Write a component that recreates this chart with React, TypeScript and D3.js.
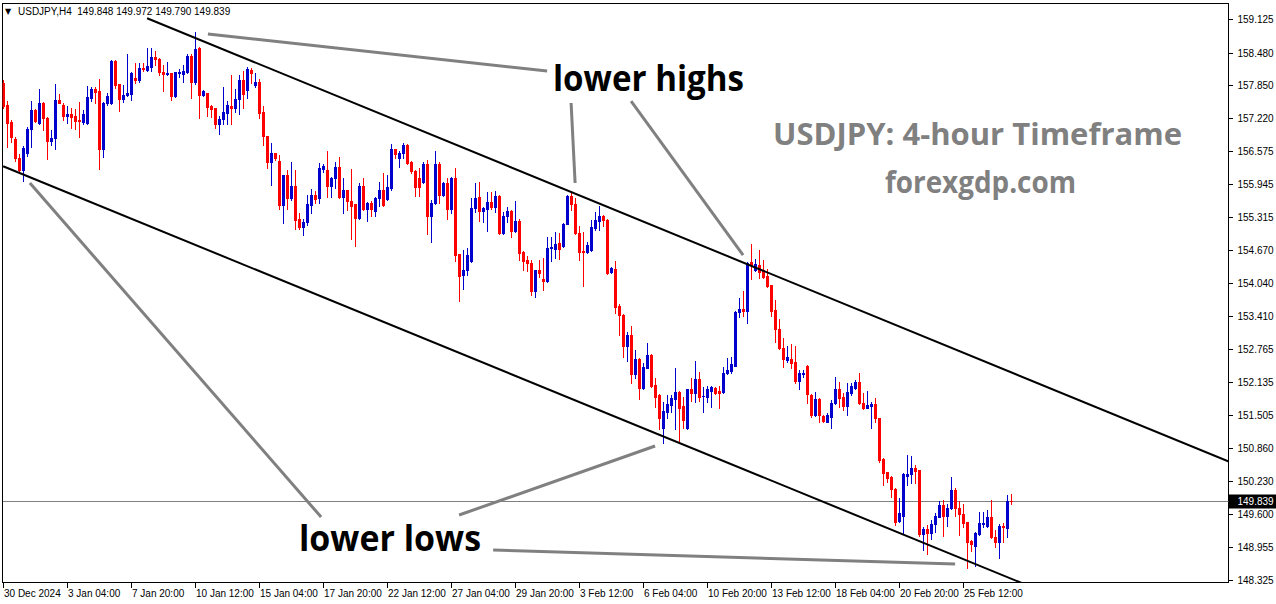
import * as d3 from "d3";

// price axis labels (MT4 picks them by pixel step, so they are not round)
const priceTicks = [
  "159.125", "158.480", "157.850", "157.220", "156.575", "155.945", "155.315", "154.670", "154.040",
  "153.410", "152.765", "152.135", "151.505", "150.860", "150.230", "149.600", "148.955", "148.325",
];

// one label every 16 bars
const timeLabels = [
  "30 Dec 2024", "3 Jan 04:00", "7 Jan 20:00", "10 Jan 12:00", "15 Jan 04:00", "17 Jan 20:00",
  "22 Jan 12:00", "27 Jan 04:00", "29 Jan 20:00", "3 Feb 12:00", "6 Feb 04:00", "10 Feb 20:00",
  "13 Feb 12:00", "18 Feb 04:00", "20 Feb 20:00", "25 Feb 12:00",
];
const labelStep = 16;

// H4 bars: open, high, low, close
const ohlc: [number, number, number, number][] = [
  [157.89, 157.95, 157.41, 157.45], [157.47, 157.55, 156.66, 157.12], [157.14, 157.18, 156.76, 156.85],
  [156.81, 156.85, 156.39, 156.45], [156.45, 156.53, 156.16, 156.22], [156.22, 156.68, 156.01, 156.64],
  [156.54, 157.05, 156.49, 157.01], [157.01, 157.55, 156.66, 157.37], [157.37, 157.39, 157.15, 157.16],
  [157.12, 157.78, 157.10, 157.51], [157.51, 157.52, 156.99, 157.22], [157.22, 157.23, 156.43, 156.78],
  [156.78, 156.99, 156.70, 156.83], [156.83, 157.87, 156.62, 157.56], [157.56, 157.68, 157.50, 157.51],
  [157.47, 157.51, 157.18, 157.26], [157.26, 157.45, 157.12, 157.30], [157.30, 157.41, 157.03, 157.24],
  [157.26, 157.39, 157.01, 157.16], [157.18, 157.53, 156.85, 157.16], [157.14, 157.37, 157.10, 157.30],
  [157.12, 157.83, 157.11, 157.62], [157.60, 157.82, 157.55, 157.78], [157.78, 157.82, 157.51, 157.72],
  [157.74, 157.97, 156.24, 156.62], [156.62, 157.52, 156.47, 157.51], [157.51, 157.70, 157.47, 157.64],
  [157.51, 158.33, 157.49, 158.32], [158.32, 158.33, 157.80, 157.85], [157.87, 157.88, 157.35, 157.58],
  [157.58, 157.85, 157.53, 157.66], [157.66, 158.45, 157.65, 157.70], [157.68, 158.10, 157.56, 158.08],
  [157.99, 158.28, 157.89, 157.95], [157.95, 158.28, 157.91, 158.18], [158.18, 158.28, 158.12, 158.16],
  [158.14, 158.57, 158.12, 158.22], [158.20, 158.57, 158.12, 158.39], [158.39, 158.51, 158.24, 158.35],
  [158.35, 158.37, 158.05, 158.10], [158.10, 158.24, 157.74, 158.07], [158.07, 158.30, 158.05, 158.08],
  [158.08, 158.09, 157.56, 157.64], [157.64, 158.11, 157.63, 158.10], [158.08, 158.16, 158.01, 158.10],
  [158.07, 158.24, 157.91, 158.12], [158.10, 158.45, 158.08, 158.41], [158.41, 158.45, 157.60, 157.91],
  [157.91, 158.87, 157.87, 158.55], [158.57, 158.58, 157.22, 157.66], [157.66, 157.75, 157.65, 157.74],
  [157.70, 157.71, 157.26, 157.43], [157.45, 157.46, 157.24, 157.39], [157.41, 157.42, 157.03, 157.10],
  [157.10, 157.26, 156.91, 157.20], [157.20, 157.82, 157.10, 157.33], [157.31, 157.55, 157.10, 157.47],
  [157.45, 158.05, 157.10, 157.41], [157.41, 157.78, 157.33, 157.58], [157.58, 158.05, 157.30, 157.95],
  [157.95, 158.12, 157.41, 157.68], [157.76, 158.20, 157.60, 158.16], [158.14, 158.18, 157.89, 158.08],
  [157.85, 158.08, 157.82, 157.91], [157.91, 157.97, 157.22, 157.31], [157.33, 157.45, 156.70, 156.87],
  [156.87, 156.88, 156.26, 156.37], [156.37, 156.74, 155.93, 156.54], [156.54, 156.55, 156.41, 156.45],
  [156.39, 156.51, 155.47, 155.54], [155.54, 156.13, 155.20, 156.12], [156.12, 156.22, 155.47, 155.68],
  [155.68, 156.37, 155.64, 155.91], [155.91, 156.22, 155.08, 155.26], [155.27, 155.39, 155.08, 155.12],
  [155.12, 155.27, 154.97, 155.22], [155.22, 155.74, 155.16, 155.56], [155.54, 155.85, 155.39, 155.74],
  [155.74, 155.81, 155.58, 155.66], [155.68, 156.35, 155.58, 156.26], [156.24, 156.33, 156.18, 156.30],
  [156.22, 156.58, 155.70, 155.91], [155.91, 156.08, 155.70, 156.06], [156.06, 156.37, 155.87, 156.28],
  [156.28, 156.47, 155.68, 155.70], [155.70, 156.06, 155.39, 155.83], [155.83, 155.84, 155.45, 155.62],
  [155.62, 156.24, 154.89, 155.52], [155.56, 155.57, 154.75, 155.29], [155.29, 155.97, 155.27, 155.91],
  [155.91, 156.06, 155.45, 155.47], [155.47, 155.60, 155.24, 155.58], [155.58, 155.62, 155.33, 155.47],
  [155.43, 155.69, 155.33, 155.68], [155.68, 155.99, 155.52, 155.83], [155.83, 156.16, 155.52, 155.54],
  [155.66, 156.12, 155.64, 155.89], [155.87, 156.72, 155.83, 156.62], [156.62, 156.63, 156.45, 156.53],
  [156.45, 156.58, 156.28, 156.54], [156.54, 156.74, 156.45, 156.70], [156.70, 156.71, 156.33, 156.35],
  [156.37, 156.39, 156.16, 156.20], [156.20, 156.21, 155.72, 155.89], [156.06, 156.26, 155.72, 155.89],
  [155.99, 156.37, 155.97, 156.33], [156.33, 156.41, 154.99, 155.33], [155.33, 155.64, 154.83, 155.58],
  [155.58, 156.58, 155.56, 156.33], [156.33, 156.37, 155.58, 155.74], [155.74, 155.99, 155.72, 155.97],
  [155.97, 156.06, 155.27, 155.47], [155.47, 156.08, 155.39, 156.06], [156.06, 156.26, 154.47, 154.58],
  [154.60, 154.61, 153.70, 154.18], [154.20, 154.68, 153.93, 154.29], [154.29, 154.72, 154.20, 154.58],
  [154.47, 155.68, 154.45, 155.49], [155.49, 155.97, 155.41, 155.68], [155.70, 155.99, 155.24, 155.43],
  [155.43, 155.51, 155.22, 155.49], [155.47, 155.79, 155.04, 155.60], [155.60, 155.79, 155.47, 155.51],
  [155.51, 155.81, 155.41, 155.72], [155.72, 155.74, 154.99, 155.00], [155.00, 155.41, 154.98, 155.33],
  [155.33, 155.51, 155.22, 155.43], [155.43, 155.45, 154.93, 155.04], [155.04, 155.62, 155.02, 155.24],
  [155.24, 155.27, 154.48, 154.62], [154.64, 154.65, 154.29, 154.47], [154.49, 154.56, 154.27, 154.43],
  [154.43, 154.49, 153.81, 153.89], [153.89, 154.30, 153.77, 154.29], [154.29, 154.49, 154.16, 154.24],
  [154.12, 154.52, 153.91, 154.08], [154.08, 154.93, 154.06, 154.72], [154.72, 154.93, 154.47, 154.73],
  [154.70, 155.02, 154.52, 154.79], [154.81, 155.00, 154.50, 154.70], [154.75, 155.20, 154.74, 155.18],
  [155.18, 155.74, 155.17, 155.72], [155.72, 155.79, 155.45, 155.56], [155.56, 155.68, 154.98, 155.00],
  [155.00, 155.14, 154.49, 154.64], [154.66, 155.02, 153.98, 154.64], [154.64, 154.83, 154.62, 154.77],
  [154.68, 155.26, 154.66, 155.12], [155.10, 155.41, 155.06, 155.26], [155.24, 155.52, 155.06, 155.33],
  [155.33, 155.35, 155.14, 155.26], [155.26, 155.27, 154.22, 154.24], [154.25, 154.35, 154.23, 154.33],
  [154.31, 154.47, 153.47, 153.58], [153.60, 153.64, 153.04, 153.43], [153.43, 153.44, 152.62, 152.83],
  [152.83, 153.10, 152.54, 153.04], [153.04, 153.21, 152.12, 152.29], [152.29, 152.75, 152.21, 152.58],
  [152.58, 152.59, 151.81, 152.02], [152.02, 152.50, 152.01, 152.43], [152.41, 152.89, 152.40, 152.66],
  [152.66, 152.67, 152.05, 152.06], [152.08, 152.21, 151.66, 151.85], [151.89, 151.90, 151.23, 151.44],
  [151.25, 151.75, 150.96, 151.58], [151.56, 151.89, 151.44, 151.71], [151.69, 151.89, 151.56, 151.83],
  [151.81, 152.41, 151.23, 151.95], [151.95, 151.96, 150.96, 151.64], [151.67, 151.85, 151.25, 151.40],
  [151.25, 152.01, 151.23, 152.00], [152.00, 152.21, 151.77, 151.92], [151.92, 152.54, 151.75, 152.19],
  [152.19, 152.33, 151.77, 151.85], [151.86, 152.04, 151.56, 151.87], [151.85, 152.06, 151.75, 152.00],
  [151.96, 152.06, 151.66, 152.04], [152.02, 152.04, 151.90, 151.92], [151.96, 152.06, 151.64, 151.92],
  [151.94, 152.43, 151.93, 152.31], [152.31, 152.60, 152.29, 152.37], [152.35, 152.62, 152.31, 152.48],
  [152.45, 153.50, 152.44, 153.48], [153.48, 153.75, 153.39, 153.54], [153.54, 153.89, 153.41, 153.50],
  [153.50, 154.45, 153.27, 154.43], [154.45, 154.79, 154.12, 154.39], [154.29, 154.50, 154.28, 154.41],
  [154.39, 154.68, 154.14, 154.25], [154.29, 154.49, 154.14, 154.16], [154.18, 154.31, 153.96, 153.98],
  [154.00, 154.01, 153.41, 153.50], [153.52, 153.71, 152.91, 153.16], [153.16, 153.35, 152.78, 152.79],
  [152.79, 152.98, 152.43, 152.58], [152.56, 152.83, 152.52, 152.62], [152.58, 152.87, 152.41, 152.50],
  [152.52, 152.83, 152.12, 152.16], [152.16, 152.37, 152.00, 152.31], [152.29, 152.37, 152.23, 152.31],
  [152.45, 152.46, 151.73, 151.91], [151.89, 151.90, 151.46, 151.50], [151.50, 151.94, 151.49, 151.81],
  [151.81, 151.83, 151.37, 151.50], [151.48, 151.50, 151.36, 151.38], [151.37, 151.54, 151.36, 151.50],
  [151.46, 151.79, 151.25, 151.73], [151.73, 152.23, 151.72, 152.00], [152.00, 152.14, 151.66, 151.83],
  [151.85, 151.92, 151.60, 151.67], [151.67, 152.12, 151.50, 151.94], [151.92, 152.12, 151.89, 152.06],
  [152.02, 152.17, 152.00, 152.14], [152.14, 152.31, 151.72, 151.73], [151.73, 151.92, 151.62, 151.64],
  [151.64, 151.96, 151.63, 151.69], [151.67, 151.75, 151.25, 151.71], [151.71, 151.83, 151.37, 151.44],
  [151.44, 151.45, 150.60, 150.63], [150.65, 150.67, 150.15, 150.38], [150.40, 150.41, 150.21, 150.29],
  [150.31, 150.32, 149.92, 150.08], [150.08, 150.09, 149.38, 149.44], [149.46, 149.90, 149.44, 149.61],
  [149.56, 150.38, 149.23, 150.37], [150.33, 150.73, 150.15, 150.37], [150.37, 150.71, 150.19, 150.48],
  [150.48, 150.54, 150.19, 150.42], [150.44, 150.45, 149.17, 149.21], [149.21, 149.35, 148.90, 149.31],
  [149.31, 149.38, 148.83, 149.23], [149.23, 149.48, 149.11, 149.40], [149.40, 149.62, 149.25, 149.56],
  [149.54, 149.85, 149.53, 149.77], [149.77, 149.86, 149.17, 149.56], [149.56, 149.79, 149.36, 149.71],
  [149.71, 150.31, 149.70, 150.06], [150.06, 150.10, 149.56, 149.71], [149.71, 149.85, 149.19, 149.60],
  [149.60, 149.79, 149.35, 149.42], [149.44, 149.45, 148.56, 149.06], [149.08, 149.10, 148.88, 149.02],
  [148.98, 149.24, 148.59, 149.23], [149.21, 149.63, 149.20, 149.42], [149.40, 149.63, 149.35, 149.42],
  [149.36, 149.67, 149.35, 149.54], [149.54, 149.86, 149.13, 149.15], [149.15, 149.29, 148.96, 149.06],
  [149.06, 149.40, 148.75, 149.36], [149.37, 149.42, 149.06, 149.35], [149.33, 149.96, 149.15, 149.85],
  [149.848, 149.972, 149.79, 149.839],
];

const lastPrice = 149.839;
const headerText = "USDJPY,H4  149.848 149.972 149.790 149.839";

// channel lines, as [bar index, price]
const upperChannel: [number, number][] = [[35.9, 159.14], [306.5, 150.6]];
const lowerChannel: [number, number][] = [[-0.1, 156.29], [270, 147.78]];

// grey pointer lines for the annotations, as [bar index, price]
const pointers: [number, number][][] = [
  [[51.1, 158.836], [135.9, 158.123]],
  [[141.9, 157.507], [142.9, 155.967]],
  [[156.9, 157.546], [184.9, 154.581]],
  [[6.6, 155.967], [79.4, 149.538]],
  [[113.9, 149.576], [162.9, 150.905]],
  [[122.4, 148.902], [237.9, 148.633]],
];

const BULL = "#0000cd";
const BEAR = "#ff0000";
const axisFont = "'Liberation Sans', Arial, sans-serif";
const noteFont = "'Open Sans', 'Liberation Sans', sans-serif";

export default function App() {
  const width = 1276;
  const height = 604;
  const plot = { left: 2.5, top: 3.5, right: 1228.5, bottom: 582.5 };

  const y = d3.scaleLinear().domain([148.325, 159.125]).range([580, 19]);
  const x = d3.scaleLinear().domain([0, 1]).range([3.5, 7.5]); // 4px per bar

  const line = d3.line<[number, number]>().x((d) => x(d[0])).y((d) => y(d[1]));

  return (
    <div style={{ position: "absolute", left: 0, top: 0 }}>
      <svg width={width} height={height} viewBox={`0 0 ${width} ${height}`} style={{ display: "block", background: "#fff" }}>
        <defs>
          <clipPath id="plotClip">
            <rect x={plot.left} y={plot.top} width={plot.right - plot.left} height={plot.bottom - plot.top} />
          </clipPath>
        </defs>

        {/* frame */}
        <rect x={plot.left} y={plot.top} width={plot.right - plot.left} height={plot.bottom - plot.top}
          fill="none" stroke="#000" strokeWidth={1} shapeRendering="crispEdges" />

        <g clipPath="url(#plotClip)">
          {/* current price line */}
          <line x1={plot.left} x2={plot.right} y1={Math.round(y(lastPrice)) + 0.5} y2={Math.round(y(lastPrice)) + 0.5}
            stroke="#808080" strokeWidth={1} shapeRendering="crispEdges" />

          {/* candles */}
          <g shapeRendering="crispEdges">
            {ohlc.map(([o, h, l, c], i) => {
              const cx = x(i);
              const col = c >= o ? BULL : BEAR;
              const top = Math.round(y(Math.max(o, c)));
              const bot = Math.round(y(Math.min(o, c)));
              return (
                <g key={i}>
                  <line x1={cx} x2={cx} y1={Math.round(y(h))} y2={Math.round(y(l)) + 1} stroke={col} strokeWidth={1} />
                  <rect x={cx - 1.5} y={top} width={3} height={Math.max(1, bot - top + 1)} fill={col} />
                </g>
              );
            })}
          </g>

          {/* channel */}
          <path d={line(upperChannel) || ""} fill="none" stroke="#000" strokeWidth={2} />
          <path d={line(lowerChannel) || ""} fill="none" stroke="#000" strokeWidth={2} />

          {/* annotation pointers */}
          {pointers.map((p, i) => (
            <path key={i} d={line(p) || ""} fill="none" stroke="#808080" strokeWidth={3} />
          ))}
        </g>

        {/* header */}
        <text x={5} y={14} fontFamily="'DejaVu Sans', sans-serif" fontSize={8} fill="#000">▼</text>
        <text x={18} y={15} fontFamily={axisFont} fontSize={10} fill="#000" style={{ whiteSpace: "pre" }}>{headerText}</text>

        {/* annotation text */}
        <text x={553} y={91} fontFamily={noteFont} fontWeight={700} fontSize={36} fill="#000"
          textLength={191} lengthAdjust="spacingAndGlyphs">lower highs</text>
        <text x={299} y={551} fontFamily={noteFont} fontWeight={700} fontSize={36} fill="#000"
          textLength={182} lengthAdjust="spacingAndGlyphs">lower lows</text>
        <text x={773} y={145} fontFamily={noteFont} fontWeight={700} fontSize={31} fill="#808080"
          textLength={409} lengthAdjust="spacingAndGlyphs">USDJPY: 4-hour Timeframe</text>
        <text x={885} y={193} fontFamily={noteFont} fontWeight={700} fontSize={31} fill="#808080"
          textLength={191} lengthAdjust="spacingAndGlyphs">forexgdp.com</text>

        {/* price axis */}
        <g fontFamily={axisFont} fontSize={10} fill="#000">
          {priceTicks.map((t) => {
            const py = Math.round(y(+t)) + 0.5;
            return (
              <g key={t}>
                <line x1={plot.right} x2={plot.right + 4} y1={py} y2={py} stroke="#000" shapeRendering="crispEdges" />
                <text x={plot.right + 9} y={py + 3.5}>{t}</text>
              </g>
            );
          })}
        </g>

        {/* last price tag */}
        <rect x={plot.right + 0.5} y={Math.round(y(lastPrice)) - 6.5} width={width - plot.right} height={14} fill="#000" />
        <text x={plot.right + 9} y={Math.round(y(lastPrice)) + 4} fontFamily={axisFont} fontSize={10} fill="#fff">
          {lastPrice.toFixed(3)}
        </text>

        {/* time axis */}
        <g fontFamily={axisFont} fontSize={10} fill="#000">
          {timeLabels.map((t, i) => {
            const tx = Math.round(x(i * labelStep)) - 0.5;
            return (
              <g key={t}>
                <line x1={tx} x2={tx} y1={plot.bottom} y2={plot.bottom + 5} stroke="#000" shapeRendering="crispEdges" />
                <text x={tx + 0.5} y={plot.bottom + 14}>{t}</text>
              </g>
            );
          })}
        </g>
      </svg>
    </div>
  );
}
